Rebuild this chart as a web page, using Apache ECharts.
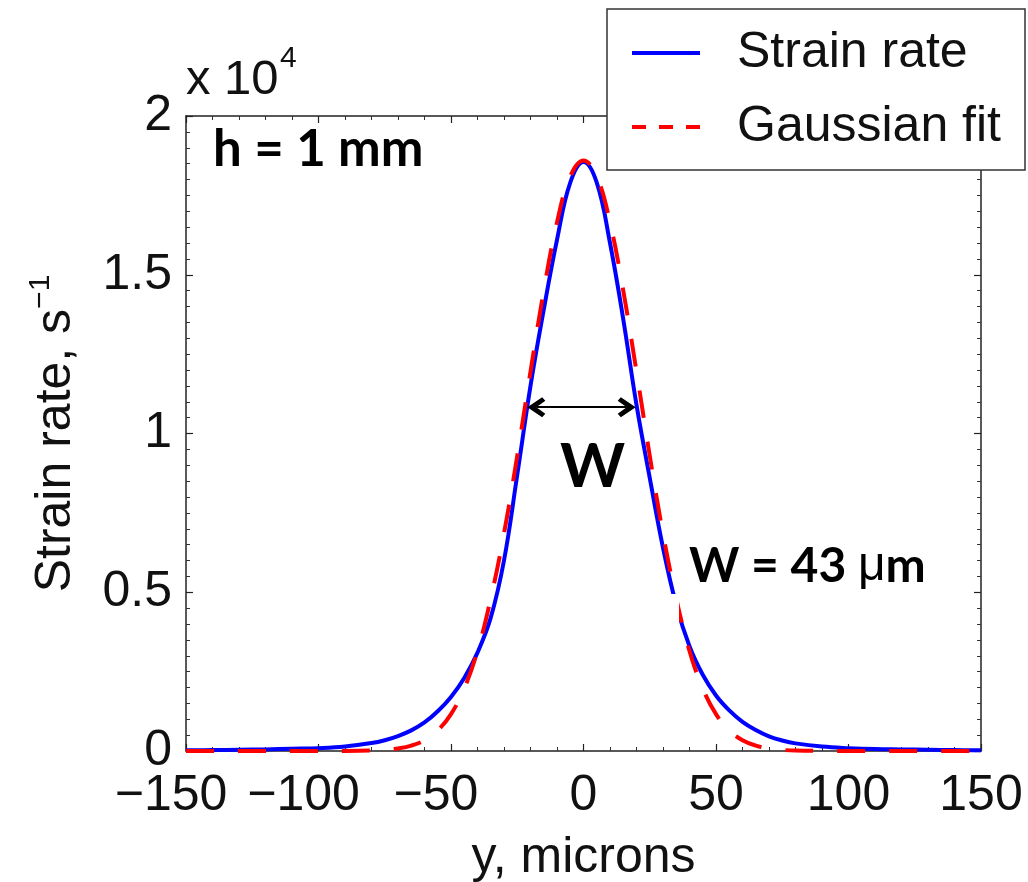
<!DOCTYPE html>
<html>
<head>
<meta charset="utf-8">
<title>Strain rate profile</title>
<script src="https://cdn.jsdelivr.net/npm/echarts@6/dist/echarts.min.js"></script>
<style>
  html, body { margin: 0; padding: 0; background: #fff; }
  #chart { width: 1028px; height: 882px; }
</style>
</head>
<body>
<div id="chart"></div>
<script>
// positions across the gap, microns
const yMicrons = [-150, -140, -130, -120, -110, -100, -90, -80, -75, -70, -65, -60, -55, -50, -45, -40, -35, -30, -25, -20, -15, -10, -5,
  0, 5, 10, 15, 20, 25, 30, 35, 40, 45, 50, 55, 60, 65, 70, 75, 80, 90, 100, 110, 120, 130, 140, 150];
// measured strain rate, x 10^4 s^-1
const strainRate = [0.002, 0.003, 0.004, 0.005, 0.007, 0.009, 0.014, 0.025, 0.034, 0.047, 0.065, 0.09, 0.125, 0.17, 0.23, 0.31, 0.42, 0.60, 0.87, 1.15, 1.39, 1.61, 1.79,
  1.855, 1.79, 1.60, 1.36, 1.09, 0.86, 0.64, 0.46, 0.33, 0.24, 0.175, 0.128, 0.092, 0.066, 0.046, 0.033, 0.024, 0.014, 0.009, 0.006, 0.005, 0.004, 0.003, 0.002];
// gaussian fit, x 10^4 s^-1
const gaussianFit = [0, 0, 0, 0, 0, 0, 0.0002, 0.0014, 0.0035, 0.008, 0.017, 0.034, 0.065, 0.116, 0.197, 0.315, 0.48, 0.685, 0.93, 1.195, 1.45, 1.665, 1.81,
  1.86, 1.81, 1.665, 1.45, 1.195, 0.93, 0.685, 0.48, 0.315, 0.197, 0.116, 0.065, 0.034, 0.017, 0.008, 0.0035, 0.0014, 0.0002, 0, 0, 0, 0, 0, 0];

const xTicks = [-150, -100, -50, 0, 50, 100, 150];
const yTicks = [0, 0.5, 1, 1.5, 2];

// width arrow (annotation), in data units; ends sit at the arrow-head centres
const arrowLevel = 1.083;
const arrowFrom = -17.8;
const arrowTo = 16.3;

const FONT = '"Liberation Sans", Arial, Helvetica, sans-serif';
const BOLD = 'Lato, "Open Sans", sans-serif';

function toPairs(xs, ys) {
  return xs.map((x, i) => [x, ys[i]]);
}

const chevron = 'path://M10,0 L20,14 L16.5,17 L10,8.5 L3.5,17 L0,14 Z';

const chart = echarts.init(document.getElementById('chart'), null, { renderer: 'canvas' });

const axisLine = { show: true, onZero: false, lineStyle: { color: '#222', width: 1.5 } };
const tick = { show: true, inside: true, length: 7, lineStyle: { color: '#222', width: 1.2 } };
const minor = (n) => ({ show: true, splitNumber: n, length: 4, lineStyle: { color: '#333', width: 1 } });

chart.setOption({
  backgroundColor: '#ffffff',
  animation: false,
  grid: { left: 186, right: 47, top: 116, bottom: 131, outerBoundsMode: 'none' },
  xAxis: [{
    type: 'value',
    min: xTicks[0], max: xTicks[xTicks.length - 1], interval: 50,
    axisLine: axisLine,
    axisTick: tick,
    minorTick: minor(5),
    splitLine: { show: false },
    axisLabel: {
      margin: 20,
      fontFamily: FONT, fontSize: 50, color: '#111',
      hideOverlap: false,
      formatter: function (v) {
        return v < 0 ? '{neg|\u2212' + (-v) + '}' : '{pos|' + v + '}';
      },
      rich: {
        neg: { fontFamily: FONT, fontSize: 50, color: '#111', padding: [0, 30, 0, 0] },
        pos: { fontFamily: FONT, fontSize: 50, color: '#111' }
      }
    },
    name: 'y, microns',
    nameLocation: 'middle',
    nameGap: 82,
    nameMoveOverlap: false,
    nameTextStyle: { fontFamily: FONT, fontSize: 50, color: '#111' }
  }, {
    type: 'value', position: 'top',
    min: xTicks[0], max: xTicks[xTicks.length - 1], interval: 50,
    axisLine: axisLine, axisTick: tick, minorTick: minor(5),
    axisLabel: { show: false }, splitLine: { show: false }
  }],
  yAxis: [{
    type: 'value',
    min: yTicks[0], max: yTicks[yTicks.length - 1], interval: 0.5,
    axisLine: axisLine,
    axisTick: tick,
    minorTick: minor(10),
    splitLine: { show: false },
    axisLabel: {
      margin: 14,
      fontFamily: FONT, fontSize: 50, color: '#111',
      hideOverlap: false
    },
    name: '{a|Strain rate, s}{s|\u22121}',
    nameLocation: 'middle',
    nameGap: 100,
    nameMoveOverlap: false,
    nameTextStyle: {
      fontFamily: FONT, fontSize: 50, color: '#111',
      rich: {
        a: { fontFamily: FONT, fontSize: 50, color: '#111', lineHeight: 60 },
        s: { fontFamily: FONT, fontSize: 30, color: '#111', verticalAlign: 'top', lineHeight: 60 }
      }
    }
  }, {
    type: 'value', position: 'right',
    min: yTicks[0], max: yTicks[yTicks.length - 1], interval: 0.5,
    axisLine: axisLine, axisTick: tick, minorTick: minor(10),
    axisLabel: { show: false }, splitLine: { show: false }
  }],
  legend: {
    orient: 'vertical',
    left: 607, top: 9,
    backgroundColor: '#ffffff',
    borderColor: '#333', borderWidth: 1.5, borderRadius: 0,
    padding: [16, 24, 15, 23],
    itemWidth: 68, itemHeight: 20, itemGap: 18,
    selectedMode: false,
    itemStyle: { opacity: 0 },
    textStyle: { fontFamily: FONT, fontSize: 50, color: '#111', lineHeight: 56, padding: [0, 0, 0, 32] },
    data: [
      { name: 'Strain rate', lineStyle: { width: 4 } },
      { name: 'Gaussian fit', lineStyle: { width: 4, type: [14, 13] } }
    ]
  },
  series: [{
    name: 'Strain rate',
    type: 'line',
    xAxisIndex: 0, yAxisIndex: 0,
    data: toPairs(yMicrons, strainRate),
    symbol: 'none',
    smooth: 0.4,
    z: 3,
    lineStyle: { color: '#0000ff', width: 4 },
    itemStyle: { color: '#0000ff' },
    markLine: {
      silent: true,
      symbol: [chevron, chevron],
      symbolSize: [20, 18],
      label: { show: false },
      lineStyle: { color: '#000', width: 2, type: 'solid' },
      itemStyle: { color: '#000' },
      data: [[{ coord: [arrowFrom, arrowLevel] }, { coord: [arrowTo, arrowLevel] }]]
    }
  }, {
    name: 'Gaussian fit',
    type: 'line',
    xAxisIndex: 0, yAxisIndex: 0,
    data: toPairs(yMicrons, gaussianFit),
    symbol: 'none',
    smooth: 0.4,
    z: 4,
    lineStyle: { color: '#ff0000', width: 4, type: [28, 24] },
    itemStyle: { color: '#ff0000' }
  }],
  graphic: [
    { type: 'text', left: 186, top: 56, z: 20,
      style: { text: 'x 10', font: '49px ' + FONT, fill: '#111' } },
    { type: 'text', left: 280, top: 44, z: 20,
      style: { text: '4', font: '30px ' + FONT, fill: '#111' } },
    { type: 'text', left: 213, top: 124, z: 20,
      style: { text: 'h = 1 mm', font: 'bold 51px ' + BOLD, fill: '#000' } },
    { type: 'text', left: 560, top: 436, z: 20,
      style: { text: 'W', font: 'bold 62px ' + BOLD, fill: '#000' } },
    { type: 'text', left: 689, top: 543, z: 20,
      style: {
        text: '{b|W = 43 }{u|\u03bc}{b|m}',
        rich: {
          b: { font: 'bold 48px ' + BOLD, fill: '#000' },
          u: { font: '48px ' + FONT, fill: '#000' }
        }
      } },
    { type: 'rect', z: 10, shape: { x: 503, y: 594, width: 176, height: 60 },
      style: { fill: '#ffffff' } }
  ]
});
</script>
</body>
</html>
